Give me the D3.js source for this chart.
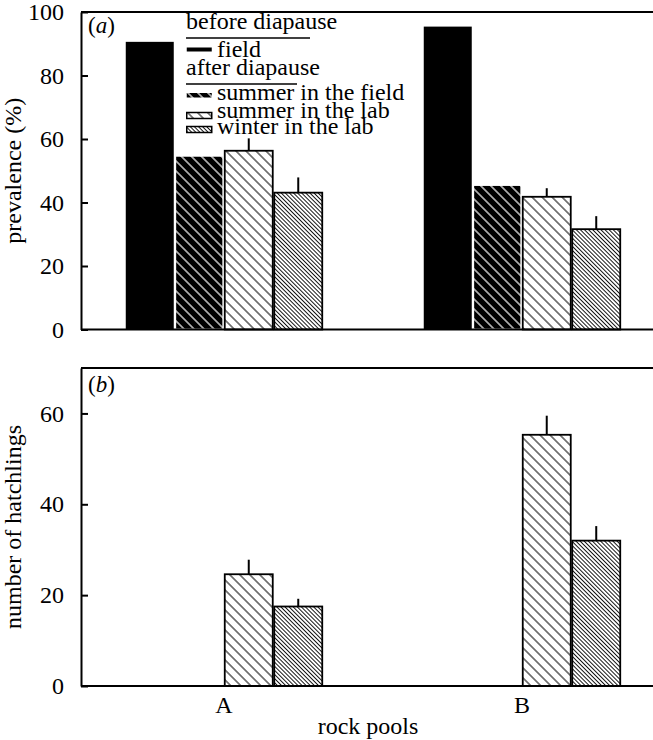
<!DOCTYPE html>
<html><head><meta charset="utf-8">
<script src="https://cdn.jsdelivr.net/npm/d3@7"></script>
</head><body style="margin:0;background:#fff"><svg id="c" width="653" height="740" style="display:block"></svg>
<script>
// ---- data ----
const pools = ["A", "B"];
const seriesKeys = ["field", "summerField", "summerLab", "winterLab"];
const seriesLabels = ["field", "summer in the field", "summer in the lab", "winter in the lab"];
// panel (a) prevalence (%)
const prevField = [90.6, 95.4];
const prevSummerField = [54.7, 45.5];
const prevSummerLab = [56.3, 41.8];
const prevSummerLabErr = [3.9, 2.7];
const prevWinterLab = [43.1, 31.6];
const prevWinterLabErr = [4.8, 4.1];
// panel (b) number of hatchlings
const hatchSummerLab = [24.6, 55.3];
const hatchSummerLabErr = [3.2, 4.2];
const hatchWinterLab = [17.5, 32.0];
const hatchWinterLabErr = [1.7, 3.2];
const ticksA = [0, 20, 40, 60, 80, 100];
const ticksB = [0, 20, 40, 60];

const FONT = "Liberation Serif";
const svg = d3.select("#c").attr("font-family", FONT);
const defs = svg.append("defs");
function hatch(id, spacing, bg, fg, sw) {
  const p = defs.append("pattern").attr("id", id).attr("patternUnits", "userSpaceOnUse")
    .attr("width", spacing).attr("height", spacing).attr("patternTransform", "rotate(-45)");
  p.append("rect").attr("width", spacing).attr("height", spacing).attr("fill", bg);
  p.append("line").attr("x1", spacing / 2).attr("x2", spacing / 2).attr("y1", 0).attr("y2", spacing)
    .attr("stroke", fg).attr("stroke-width", sw);
}
hatch("hSF", 7.07, "#000", "#fff", 1.2);
hatch("hSL", 7.07, "#fff", "#000", 1.0);
hatch("hWL", 2.9, "#fff", "#000", 0.9);
const fills = { field: "#000", summerField: "url(#hSF)", summerLab: "url(#hSL)", winterLab: "url(#hWL)" };
const strokes = { field: "none", summerField: "#fff", summerLab: "#000", winterLab: "#000" };

const left = 81, right = 665;
const x = d3.scaleBand().domain(pools).range([left, right]).paddingInner(0.3356).paddingOuter(0.1477);
const xs = d3.scaleBand().domain(seriesKeys).range([0, x.bandwidth()]);

function txt(sel, size) { return sel.attr("font-family", FONT).attr("font-size", size).attr("fill", "#000"); }

function panel(y, ticks, rows, labelTxt, tag, tagY) {
  const y0 = y.range()[0], y1 = y.range()[1];
  const g = svg.append("g");
  rows.forEach(r => {
    r.vals.forEach((v, i) => {
      const bx = x(pools[i]) + xs(r.key);
      g.append("rect").attr("x", bx + 0.75).attr("width", xs.bandwidth() - 1.5)
        .attr("y", y(v)).attr("height", y0 - y(v))
        .attr("fill", fills[r.key]).attr("stroke", strokes[r.key]).attr("stroke-width", r.key === "field" ? 0 : 1.8);
      if (r.err) {
        const cx = bx + xs.bandwidth() / 2;
        g.append("line").attr("x1", cx).attr("x2", cx).attr("y1", y(v)).attr("y2", y(v + r.err[i]))
          .attr("stroke", "#000").attr("stroke-width", 2);
      }
    });
  });
  g.append("line").attr("x1", left).attr("x2", 660).attr("y1", y1).attr("y2", y1).attr("stroke", "#000").attr("stroke-width", 2);
  g.append("line").attr("x1", left).attr("x2", 660).attr("y1", y0).attr("y2", y0).attr("stroke", "#000").attr("stroke-width", 2);
  const ax = g.append("g").attr("transform", `translate(${left},0)`)
    .call(d3.axisLeft(y).tickValues(ticks).tickSizeInner(-7).tickSizeOuter(0).tickPadding(17));
  ax.attr("font-family", FONT).attr("font-size", 24);
  ax.select(".domain").attr("stroke-width", 2);
  ax.selectAll(".tick line").attr("stroke-width", 2);
  ax.selectAll("text").attr("font-family", FONT).attr("font-size", 24);
  txt(svg.append("text"), 24).attr("transform", `translate(21,${(y0 + y1) / 2}) rotate(-90)`)
    .attr("text-anchor", "middle").text(labelTxt);
  const t = txt(svg.append("text"), 23).attr("x", 88).attr("y", tagY);
  t.append("tspan").text("(");
  t.append("tspan").attr("font-style", "italic").text(tag);
  t.append("tspan").text(")");
}

const yA = d3.scaleLinear().domain([0, 100]).range([329.5, 12]);
panel(yA, ticksA, [
  { key: "field", vals: prevField },
  { key: "summerField", vals: prevSummerField },
  { key: "summerLab", vals: prevSummerLab, err: prevSummerLabErr },
  { key: "winterLab", vals: prevWinterLab, err: prevWinterLabErr }
], "prevalence (%)", "a", 33);

const yB = d3.scaleLinear().domain([0, 70]).range([686, 368]);
panel(yB, ticksB, [
  { key: "summerLab", vals: hatchSummerLab, err: hatchSummerLabErr },
  { key: "winterLab", vals: hatchWinterLab, err: hatchWinterLabErr }
], "number of hatchlings", "b", 392);

svg.selectAll(".xl").data(pools).enter().append("text")
  .attr("font-family", FONT).attr("font-size", 24)
  .attr("x", d => x(d) + x.bandwidth() / 2).attr("y", 713).attr("text-anchor", "middle").text(d => d);
txt(svg.append("text"), 24).attr("x", 368).attr("y", 734).attr("text-anchor", "middle").text("rock pools");

const lg = svg.append("g");
const lx = 186, tx = 217, fs = 24;
txt(lg.append("text"), fs).attr("x", lx).attr("y", 29).text("before diapause");
lg.append("line").attr("x1", lx).attr("x2", 310).attr("y1", 38).attr("y2", 38).attr("stroke", "#000").attr("stroke-width", 1.5);
txt(lg.append("text"), fs).attr("x", lx).attr("y", 75).text("after diapause");
lg.append("line").attr("x1", lx).attr("x2", 297).attr("y1", 84).attr("y2", 84).attr("stroke", "#000").attr("stroke-width", 1.5);
const legRows = [
  { key: "field", base: 57, sy: 47.5, sh: 4 },
  { key: "summerField", base: 100, sy: 93, sh: 4.5 },
  { key: "summerLab", base: 118, sy: 112.5, sh: 6 },
  { key: "winterLab", base: 134, sy: 126.5, sh: 6 }
];
legRows.forEach(r => {
  lg.append("rect").attr("x", lx + 0.75).attr("y", r.sy).attr("width", 25).attr("height", r.sh)
    .attr("fill", fills[r.key]).attr("stroke", r.key === "summerLab" || r.key === "winterLab" ? "#000" : "none").attr("stroke-width", 1.5);
  txt(lg.append("text"), fs).attr("x", tx).attr("y", r.base).text(seriesLabels[seriesKeys.indexOf(r.key)]);
});
</script></body></html>
